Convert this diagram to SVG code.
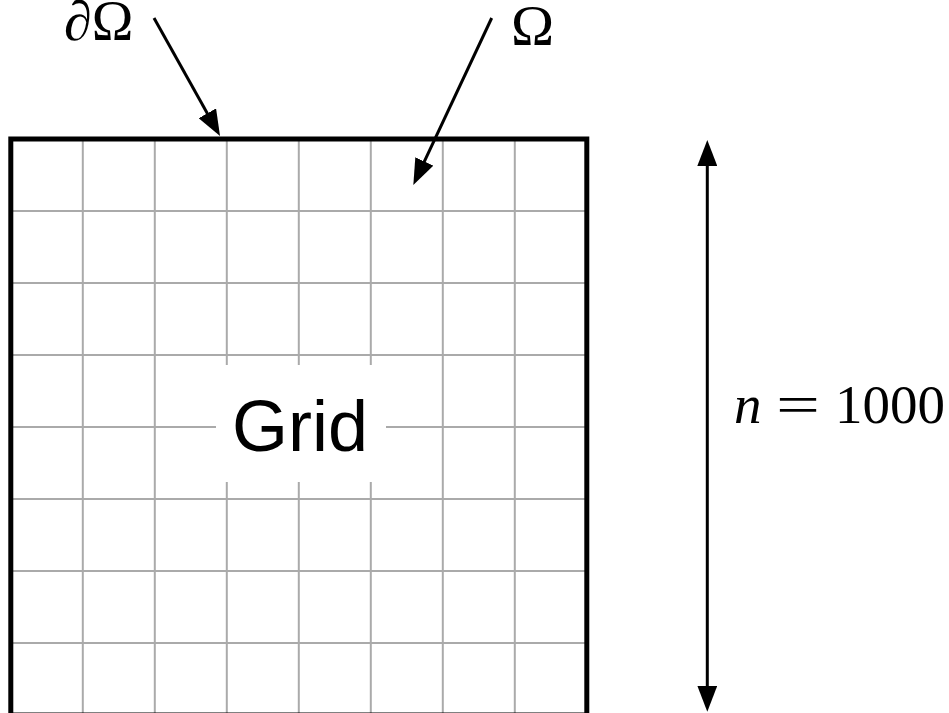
<svg xmlns="http://www.w3.org/2000/svg" width="949" height="713" viewBox="0 0 949 713">
<style>
.g{stroke:#aaaaaa;stroke-width:2;fill:none}
.frame{stroke:#000;stroke-width:5;fill:none;stroke-linejoin:miter}
.arr{stroke:#000;stroke-width:3;fill:none;marker-end:url(#ah)}
.math{font-family:"Liberation Serif","DejaVu Serif",serif;fill:#000}
.lbl{font-family:"Liberation Sans",Arial,sans-serif;fill:#000}
</style>
<defs>
<marker id="ah" viewBox="0 0 26 20" refX="11" refY="10" markerWidth="26" markerHeight="20" markerUnits="userSpaceOnUse" orient="auto-start-reverse">
<path d="M0,0 L26,10 L0,20 z" fill="#000"/>
</marker>
</defs>
<rect width="949" height="713" fill="#fff"/>
<g id="grid">
<g class="g">
<line x1="82.8" y1="139" x2="82.8" y2="715"/>
<line x1="154.8" y1="139" x2="154.8" y2="715"/>
<line x1="226.8" y1="139" x2="226.8" y2="715"/>
<line x1="298.8" y1="139" x2="298.8" y2="715"/>
<line x1="370.8" y1="139" x2="370.8" y2="715"/>
<line x1="442.8" y1="139" x2="442.8" y2="715"/>
<line x1="514.8" y1="139" x2="514.8" y2="715"/>
<line x1="10.8" y1="211" x2="586.8" y2="211"/>
<line x1="10.8" y1="283" x2="586.8" y2="283"/>
<line x1="10.8" y1="355" x2="586.8" y2="355"/>
<line x1="10.8" y1="427" x2="586.8" y2="427"/>
<line x1="10.8" y1="499" x2="586.8" y2="499"/>
<line x1="10.8" y1="571" x2="586.8" y2="571"/>
<line x1="10.8" y1="643" x2="586.8" y2="643"/>
</g>
<rect class="frame" x="10.8" y="139" width="576" height="576"/>
</g>
<g id="grid-label">
<rect x="216" y="365" width="170" height="117" fill="#fff"/>
<text class="lbl" x="300" y="451" font-size="72" text-anchor="middle">Grid</text>
</g>
<g id="boundary-label">
<text class="math" x="64" y="40" font-size="56"><tspan font-style="italic">∂</tspan>Ω</text>
</g>
<g id="omega-label">
<text class="math" x="532.5" y="45" font-size="58" text-anchor="middle">Ω</text>
</g>
<g id="size-label">
<text class="math" x="734" y="423" font-size="55" font-style="italic">n</text>
<text class="math" x="776" y="423" font-size="55" textLength="44" lengthAdjust="spacingAndGlyphs">=</text>
<text class="math" x="835" y="423" font-size="55">1000</text>
</g>
<g id="connectors">
<line class="arr" x1="154" y1="18" x2="212.7" y2="122.9"/>
<line class="arr" x1="491.7" y1="18" x2="419.7" y2="171.4"/>
<line class="arr" x1="707.3" y1="155" x2="707.3" y2="696.7" style="marker-start:url(#ah)"/>
</g>
</svg>
